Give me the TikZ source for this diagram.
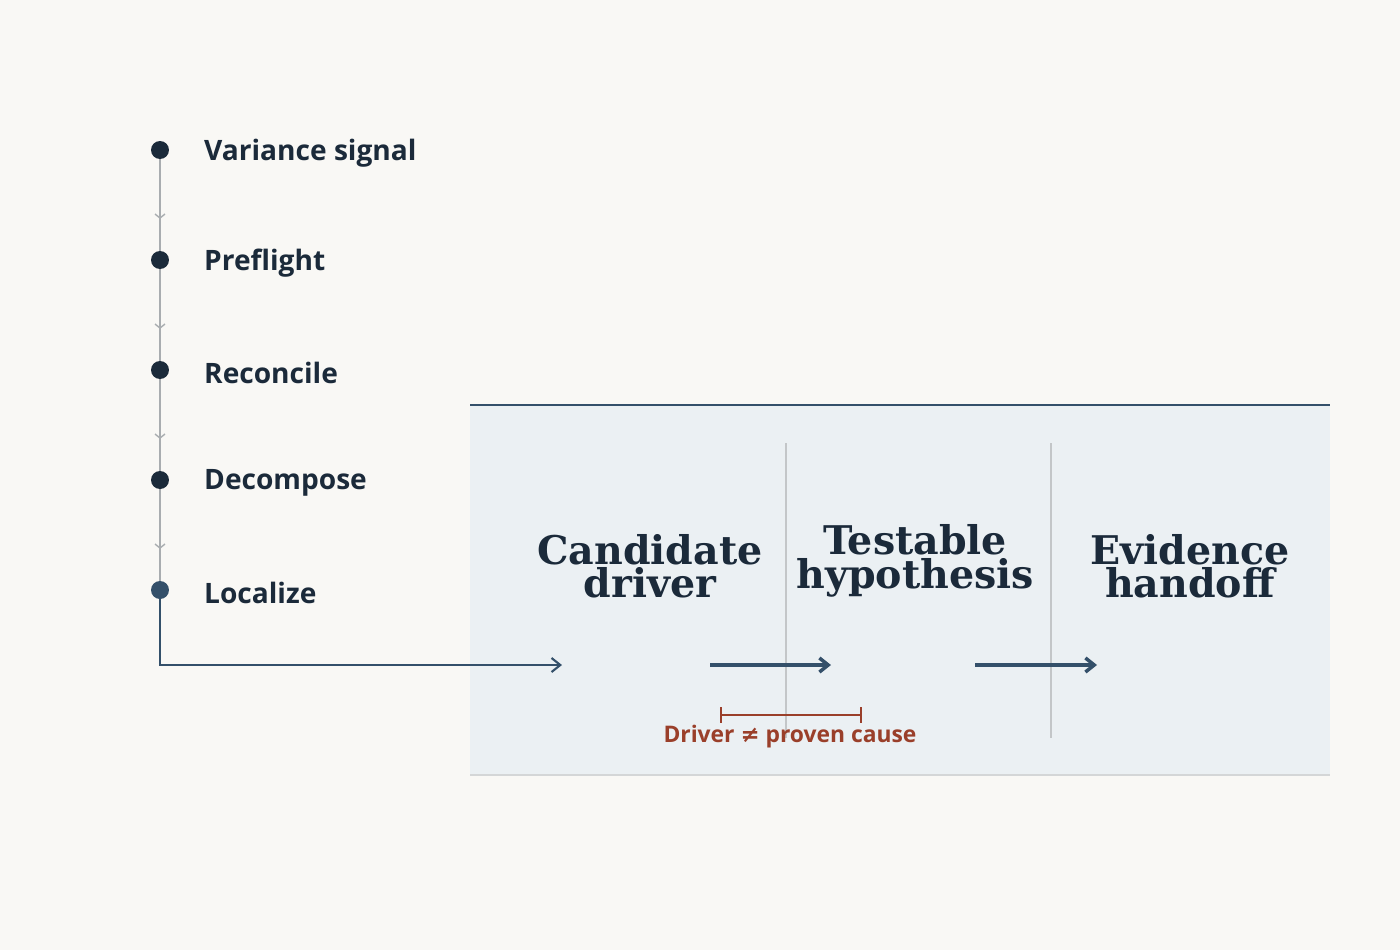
\documentclass[tikz,border=0pt]{standalone}
\usepackage{fontspec}
\setmainfont{Open Sans}
\newfontfamily\headfont{DejaVu Serif}
\newfontfamily\symfont{DejaVu Sans}
\usetikzlibrary{positioning, arrows.meta}
\definecolor{ink}{HTML}{1B2A3A}
\definecolor{slate}{HTML}{34506A}
\definecolor{rail}{HTML}{A9ADB0}
\definecolor{panel}{HTML}{EBF0F3}
\definecolor{rust}{HTML}{9A3F2A}
\definecolor{paper}{HTML}{F9F8F5}
\tikzset{
  stage label/.style={font=\fontsize{16}{20}\selectfont\bfseries, text=ink, anchor=west},
  dot/.style={circle, fill=ink, inner sep=0pt, minimum size=18pt*0.569},
  head/.style={font=\headfont\bfseries\fontsize{22.5}{19}\selectfont, text=ink, align=center},
  flow/.style={slate, line width=2pt, -{Straight Barb[length=5pt,width=8pt]}}
}
\begin{document}
\begin{tikzpicture}[x=0.02cm, y=-0.02cm]
\fill[paper] (0,0) rectangle (1400,950);
\useasboundingbox (0,0) rectangle (1400,950);
% panel
\fill[panel] (470,405) rectangle (1330,775);
\draw[slate, line width=1.4pt] (470,405) -- (1330,405);
\draw[rail!50, line width=0.8pt] (470,775) -- (1330,775);
\draw[rail!70, line width=0.6pt] (786,443) -- (786,738);
\draw[rail!70, line width=0.6pt] (1051,443) -- (1051,738);
% timeline
\foreach \n/\y/\t in {a/150/Variance signal, b/260/Preflight, c/370/Reconcile, d/480/Decompose, e/590/Localize}
  \node[stage label] (l\n) at (198,\y+3) {\t};
\draw[rail, line width=1.4pt] (160,150) -- (160,590);
\foreach \y in {218,328,438,548}
  \draw[rail, line width=0.8pt] (155,\y-4) -- (160,\y) -- (165,\y-4);
\foreach \n/\y in {a/150,b/260,c/370,d/480}
  \node[dot] (d\n) at (160,\y) {};
\node[dot, fill=slate] (de) at (160,590) {};
\coordinate (entry) at (562,665);
\draw[flow, line width=1.2pt] (de) |- (entry);
% stages
\node[head] (cand) at (650,566) {Candidate\\driver};
\node[head] (test) at (915,561) {Testable\\hypothesis};
\node[head] (evid) at (1190,566) {Evidence\\handoff};
\coordinate (a1) at (710,665); \coordinate (a2) at (831,665);
\coordinate (b1) at (975,665); \coordinate (b2) at (1097,665);
\draw[flow] (a1) -- (a2);
\draw[flow] (b1) -- (b2);
% caveat
\draw[rust, line width=1pt] (721,715) -- (861,715);
\draw[rust, line width=1pt] (721,707) -- (721,723) (861,707) -- (861,723);
\node[text=rust, font=\fontsize{13}{16}\selectfont\bfseries] (gap) at (790,737) {Driver {\symfont ≠} proven cause};
\end{tikzpicture}
\end{document}
